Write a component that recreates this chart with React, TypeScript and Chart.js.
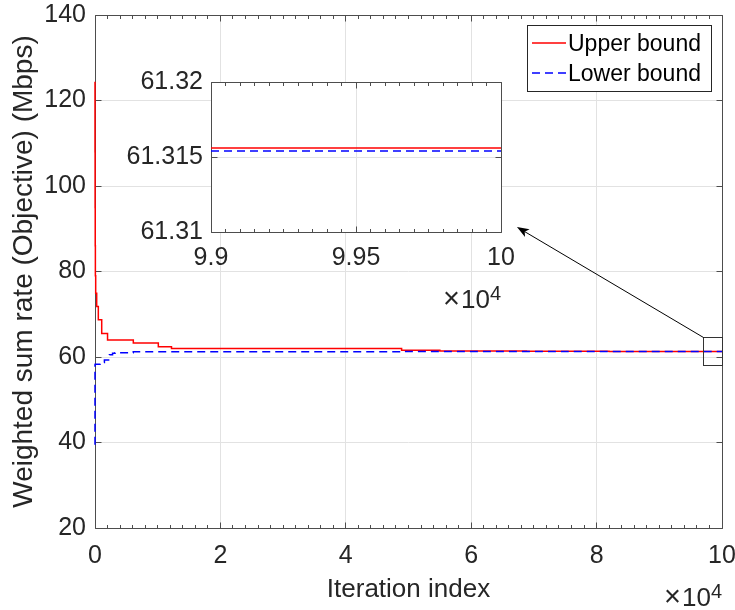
import React, { useEffect, useRef } from "react";
import { Chart, registerables } from "chart.js";

Chart.register(...registerables);

const FONT = "'Liberation Sans', Arial, Helvetica, sans-serif";
const TEXT = "#262626";
const AXIS = "#4d4d4d";
const GRID = "#e2e2e2";
const RED = "#ff0000";
const BLUE = "#0000ff";

const X_FACTOR = 10000; // axis shown in units of 10^4

// Upper bound (objective, Mbps) vs iteration index – step-wise
const upperIter = [0, 15, 35, 60, 110, 270, 530, 1070, 2000, 6110, 10100, 12200, 48900, 55000, 68800, 82000, 99000, 100000];
const upperVal = [124.4, 108, 95, 86, 79, 74.9, 71.8, 68.7, 65.5, 64.0, 63.3, 62.4, 62.0, 61.6, 61.4, 61.35, 61.3156, 61.3156];

// Lower bound (objective, Mbps) vs iteration index – step-wise
const lowerIter = [0, 30, 800, 1500, 2300, 2800, 3200, 6100, 48900, 75000, 99000, 100000];
const lowerVal = [39.5, 58.1, 58.3, 58.7, 59.3, 60.5, 60.9, 61.0, 61.2, 61.28, 61.3154, 61.3154];

const seriesLabels = ["Upper bound", "Lower bound"];

// main axes ticks (x in units of 10^4)
const mainXTicks = [0, 2, 4, 6, 8, 10];
const mainYTicks = [20, 40, 60, 80, 100, 120, 140];
const mainXMinor = 0.2;

// inset axes ticks
const insetXTicks = [9.9, 9.95, 10];
const insetXLabels = ["9.9", "9.95", "10"];
const insetYTicks = [61.31, 61.315, 61.32];
const insetYLabels = ["61.31", "61.315", "61.32"];
const insetXMinor = 0.005;

// zoom window marked on the main axes (x in 10^4) and arrow tip
const zoomBox = { x0: 9.7, x1: 10, y0: 58.0, y1: 64.6 };
const arrowTip = { x: 6.73, y: 90.4 };

const al = (p: number) => Math.round(p - 0.5) + 0.5;

function pts(iter: number[], vals: number[], minX = -Infinity) {
  const out: { x: number; y: number }[] = [];
  iter.forEach((x, i) => {
    if (x >= minX) out.push({ x, y: vals[i] });
  });
  return out;
}

function makeDatasets(minX = -Infinity) {
  return [
    {
      label: seriesLabels[0],
      data: pts(upperIter, upperVal, minX),
      borderColor: RED,
      backgroundColor: RED,
      borderWidth: 1.5,
      pointRadius: 0,
      stepped: "after",
      fill: false,
      clip: minX > -Infinity ? 2 : false,
      order: 1,
    },
    {
      label: seriesLabels[1],
      data: pts(lowerIter, lowerVal, minX),
      borderColor: BLUE,
      backgroundColor: BLUE,
      borderWidth: 1.5,
      borderDash: [8, 5],
      pointRadius: 0,
      stepped: "after",
      fill: false,
      clip: minX > -Infinity ? 2 : false,
      order: 0,
    },
  ];
}

function drawFrame(chart: any, minorStep: number, majorVals: number[]) {
  const { ctx, chartArea: a } = chart;
  const xs = chart.scales.x;
  const ys = chart.scales.y;
  const L = al(a.left), R = al(a.right), T = al(a.top), B = al(a.bottom);
  ctx.save();
  ctx.strokeStyle = AXIS;
  ctx.lineWidth = 1;
  ctx.setLineDash([]);
  ctx.beginPath();
  ctx.rect(L, T, R - L, B - T);
  const n = Math.round((xs.max - xs.min) / minorStep);
  for (let i = 0; i <= n; i++) {
    const v = xs.min + i * minorStep;
    const major = majorVals.some((m) => Math.abs(m - v) < minorStep * 1e-3);
    const len = major ? 6 : 3.5;
    const px = al(xs.getPixelForValue(v));
    ctx.moveTo(px, B);
    ctx.lineTo(px, B - len);
    ctx.moveTo(px, T);
    ctx.lineTo(px, T + len);
  }
  for (const t of ys.ticks) {
    const py = al(ys.getPixelForValue(t.value));
    ctx.moveTo(L, py);
    ctx.lineTo(L + 6, py);
    ctx.moveTo(R, py);
    ctx.lineTo(R - 6, py);
  }
  ctx.stroke();
  ctx.restore();
}

function drawExponent(chart: any, dy: number) {
  const { ctx, chartArea: a } = chart;
  ctx.save();
  ctx.fillStyle = TEXT;
  ctx.textAlign = "right";
  ctx.textBaseline = "alphabetic";
  ctx.font = `20px ${FONT}`;
  const w = ctx.measureText("4").width;
  ctx.fillText("4", a.right, a.bottom + dy - 8);
  ctx.font = `26px ${FONT}`;
  const w10 = ctx.measureText("10").width;
  ctx.fillText("10", a.right - w, a.bottom + dy);
  ctx.font = `29px ${FONT}`;
  ctx.fillText("\u00d7", a.right - w - w10 - 1, a.bottom + dy);
  ctx.restore();
}

function drawArrow(ctx: CanvasRenderingContext2D, x1: number, y1: number, x2: number, y2: number) {
  const ang = Math.atan2(y2 - y1, x2 - x1);
  const c = Math.cos(ang), s = Math.sin(ang);
  const len = 12, half = 4.5, notch = 3;
  ctx.beginPath();
  ctx.moveTo(x1, y1);
  ctx.lineTo(x2 - c * (len - notch), y2 - s * (len - notch));
  ctx.stroke();
  const bx = x2 - c * len, by = y2 - s * len;
  ctx.beginPath();
  ctx.moveTo(x2, y2);
  ctx.lineTo(bx - s * half, by + c * half);
  ctx.lineTo(x2 - c * (len - notch), y2 - s * (len - notch));
  ctx.lineTo(bx + s * half, by - c * half);
  ctx.closePath();
  ctx.fill();
}

const mainPlugin = {
  id: "mainFrame",
  beforeDatasetsDraw(chart: any) {
    drawFrame(chart, mainXMinor * X_FACTOR, mainXTicks.map((v) => v * X_FACTOR));
  },
  afterDatasetsDraw(chart: any) {
    const { ctx } = chart;
    const xs = chart.scales.x, ys = chart.scales.y;
    const x0 = xs.getPixelForValue(zoomBox.x0 * X_FACTOR);
    const x1 = xs.getPixelForValue(zoomBox.x1 * X_FACTOR);
    const y0 = ys.getPixelForValue(zoomBox.y0);
    const y1 = ys.getPixelForValue(zoomBox.y1);
    ctx.save();
    ctx.strokeStyle = "#333333";
    ctx.lineWidth = 1;
    ctx.strokeRect(al(x0), al(y1), al(x1) - al(x0), al(y0) - al(y1));
    ctx.strokeStyle = "#000000";
    ctx.fillStyle = "#000000";
    const tx = xs.getPixelForValue(arrowTip.x * X_FACTOR);
    const ty = ys.getPixelForValue(arrowTip.y);
    drawArrow(ctx, al(x0), al(y1), tx, ty);
    ctx.restore();
  },
  afterDraw(chart: any) {
    const { ctx, chartArea: a } = chart;
    // legend
    const lx = a.right - 195, ly = a.top + 10, lw = 184, lh = 66;
    ctx.save();
    ctx.fillStyle = "#ffffff";
    ctx.fillRect(lx, ly, lw, lh);
    ctx.strokeStyle = "#262626";
    ctx.lineWidth = 1;
    ctx.strokeRect(al(lx), al(ly), lw, lh);
    chart.data.datasets.forEach((ds: any, i: number) => {
      const cy = ly + 20 + i * 30;
      ctx.strokeStyle = ds.borderColor;
      ctx.lineWidth = ds.borderWidth;
      ctx.setLineDash(ds.borderDash || []);
      ctx.beginPath();
      ctx.moveTo(lx + 5, cy - 2);
      ctx.lineTo(lx + 39, cy - 2);
      ctx.stroke();
      ctx.setLineDash([]);
      ctx.fillStyle = "#000000";
      ctx.font = `23px ${FONT}`;
      ctx.textAlign = "left";
      ctx.textBaseline = "middle";
      ctx.fillText(ds.label, lx + 41, cy);
    });
    ctx.restore();
    drawExponent(chart, 78);
  },
};

const insetPlugin = {
  id: "insetFrame",
  beforeDraw(chart: any) {
    const { ctx, chartArea: a } = chart;
    ctx.save();
    ctx.fillStyle = "#ffffff";
    ctx.fillRect(a.left, a.top, a.right - a.left, a.bottom - a.top);
    ctx.restore();
  },
  beforeDatasetsDraw(chart: any) {
    drawFrame(chart, insetXMinor * X_FACTOR, insetXTicks.map((v) => v * X_FACTOR));
  },
  afterDraw(chart: any) {
    drawExponent(chart, 76);
  },
};

const tickFont = { family: FONT, size: 25 };
const gridOpts = { color: GRID, lineWidth: 1, drawTicks: false };

function mainConfig(): any {
  return {
    type: "line",
    data: { datasets: makeDatasets() },
    options: {
      responsive: false,
      animation: false,
      devicePixelRatio: 1,
      events: [],
      layout: { padding: { left: 0, top: 15, right: 13, bottom: 0 } },
      plugins: { legend: { display: false }, tooltip: { enabled: false } },
      scales: {
        x: {
          type: "linear",
          min: mainXTicks[0] * X_FACTOR,
          max: mainXTicks[mainXTicks.length - 1] * X_FACTOR,
          afterBuildTicks: (s: any) => {
            s.ticks = mainXTicks.map((v) => ({ value: v * X_FACTOR }));
          },
          afterFit: (s: any) => {
            s.height = 82;
            s.paddingLeft = 0;
            s.paddingRight = 0;
          },
          ticks: {
            autoSkip: false,
            maxRotation: 0,
            padding: 13,
            color: TEXT,
            font: tickFont,
            callback: (_v: any, i: number) => String(mainXTicks[i]),
          },
          grid: gridOpts,
          border: { display: false },
          title: {
            display: true,
            text: "Iteration index",
            color: TEXT,
            font: { family: FONT, size: 26 },
            padding: { top: 0, bottom: 5 },
          },
        },
        y: {
          type: "linear",
          min: mainYTicks[0],
          max: mainYTicks[mainYTicks.length - 1],
          afterBuildTicks: (s: any) => {
            s.ticks = mainYTicks.map((v) => ({ value: v }));
          },
          afterFit: (s: any) => {
            s.width = 95;
            s.paddingTop = 0;
            s.paddingBottom = 0;
          },
          ticks: {
            autoSkip: false,
            padding: 9,
            color: TEXT,
            font: tickFont,
            callback: (_v: any, i: number) => String(mainYTicks[i]),
          },
          grid: gridOpts,
          border: { display: false },
          title: {
            display: true,
            text: "Weighted sum rate (Objective) (Mbps)",
            color: TEXT,
            font: { family: FONT, size: 28 },
            padding: { top: 7, bottom: 0 },
          },
        },
      },
    },
    plugins: [mainPlugin],
  };
}

function insetConfig(): any {
  return {
    type: "line",
    data: { datasets: makeDatasets(insetXTicks[0] * X_FACTOR) },
    options: {
      responsive: false,
      animation: false,
      devicePixelRatio: 1,
      events: [],
      layout: { padding: { left: 0, top: 22, right: 39, bottom: 0 } },
      plugins: { legend: { display: false }, tooltip: { enabled: false } },
      scales: {
        x: {
          type: "linear",
          min: insetXTicks[0] * X_FACTOR,
          max: insetXTicks[insetXTicks.length - 1] * X_FACTOR,
          afterBuildTicks: (s: any) => {
            s.ticks = insetXTicks.map((v) => ({ value: v * X_FACTOR }));
          },
          afterFit: (s: any) => {
            s.height = 98;
            s.paddingLeft = 0;
            s.paddingRight = 0;
          },
          ticks: {
            autoSkip: false,
            maxRotation: 0,
            padding: 11,
            color: TEXT,
            font: tickFont,
            callback: (_v: any, i: number) => insetXLabels[i],
          },
          grid: gridOpts,
          border: { display: false },
        },
        y: {
          type: "linear",
          min: insetYTicks[0],
          max: insetYTicks[insetYTicks.length - 1],
          afterBuildTicks: (s: any) => {
            s.ticks = insetYTicks.map((v) => ({ value: v }));
          },
          afterFit: (s: any) => {
            s.width = 111;
            s.paddingTop = 0;
            s.paddingBottom = 0;
          },
          ticks: {
            autoSkip: false,
            padding: 8,
            color: TEXT,
            font: tickFont,
            callback: (_v: any, i: number) => insetYLabels[i],
          },
          grid: gridOpts,
          border: { display: false },
        },
      },
    },
    plugins: [insetPlugin],
  };
}

export default function App() {
  const mainRef = useRef<HTMLCanvasElement>(null);
  const insetRef = useRef<HTMLCanvasElement>(null);
  useEffect(() => {
    Chart.defaults.font.family = FONT;
    const main = new Chart(mainRef.current as HTMLCanvasElement, mainConfig());
    const inset = new Chart(insetRef.current as HTMLCanvasElement, insetConfig());
    return () => {
      main.destroy();
      inset.destroy();
    };
  }, []);
  return (
    <div style={{ position: "absolute", left: 0, top: 0, width: 735, height: 610, background: "#ffffff" }}>
      <canvas ref={mainRef} width={735} height={610} style={{ position: "absolute", left: 0, top: 0 }} />
      <canvas ref={insetRef} width={440} height={270} style={{ position: "absolute", left: 100, top: 60 }} />
    </div>
  );
}
